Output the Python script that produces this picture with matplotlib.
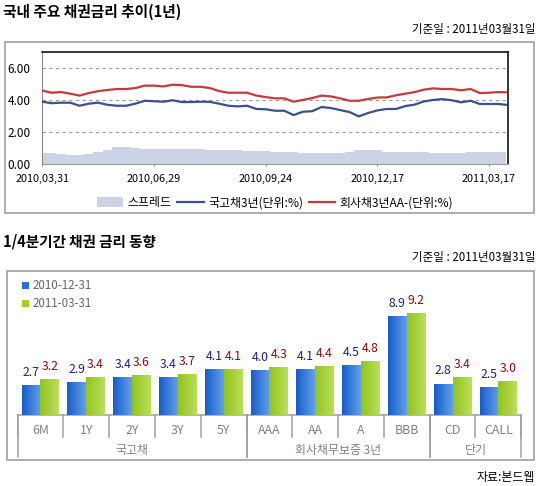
import numpy as np
import matplotlib
matplotlib.use('Agg')
import matplotlib.pyplot as plt
from matplotlib.patches import Rectangle, Patch
from matplotlib.lines import Line2D
from matplotlib.colors import LinearSegmentedColormap
import matplotlib.transforms as mtrans

plt.rcParams['font.family'] = ['Noto Sans CJK KR', 'DejaVu Sans']

# ---- top chart data (1 year, trading-day index) ----
date_labels = ['2010,03,31', '2010,06,29', '2010,09,24', '2010,12,17', '2011,03,17']
date_ticks = [0, 60, 120, 180, 240]
days = np.r_[np.arange(0, 250, 5), 249]

corp3y = [4.58, 4.45, 4.49, 4.39, 4.27, 4.43, 4.55, 4.62, 4.68, 4.68,
          4.74, 4.89, 4.89, 4.84, 4.95, 4.92, 4.82, 4.82, 4.74, 4.55,
          4.45, 4.45, 4.45, 4.27, 4.18, 4.10, 4.10, 3.89, 4.00, 4.12,
          4.27, 4.22, 4.10, 3.95, 3.95, 4.06, 4.15, 4.16, 4.29, 4.39,
          4.49, 4.64, 4.72, 4.68, 4.68, 4.60, 4.68, 4.43, 4.45, 4.49,
          4.48]
ktb3y = [3.89, 3.80, 3.83, 3.83, 3.64, 3.77, 3.83, 3.70, 3.64, 3.64,
         3.77, 3.95, 3.92, 3.89, 3.98, 3.87, 3.87, 3.89, 3.88, 3.77,
         3.64, 3.60, 3.64, 3.44, 3.42, 3.33, 3.33, 3.06, 3.27, 3.30,
         3.56, 3.50, 3.37, 3.25, 2.98, 3.19, 3.35, 3.44, 3.44, 3.62,
         3.71, 3.91, 4.00, 4.05, 3.98, 3.85, 3.95, 3.75, 3.75, 3.75,
         3.70]
spread = [0.68, 0.68, 0.62, 0.56, 0.58, 0.64, 0.77, 0.89, 1.08, 1.08,
          1.01, 0.95, 0.95, 0.95, 0.95, 0.95, 0.95, 0.95, 0.89, 0.89,
          0.89, 0.89, 0.83, 0.83, 0.83, 0.77, 0.77, 0.77, 0.72, 0.68,
          0.68, 0.68, 0.68, 0.77, 0.89, 0.89, 0.89, 0.77, 0.77, 0.77,
          0.77, 0.77, 0.72, 0.68, 0.68, 0.72, 0.77, 0.77, 0.77, 0.77,
          0.77]

# ---- bottom chart data ----
cats = ['6M', '1Y', '2Y', '3Y', '5Y', 'AAA', 'AA', 'A', 'BBB', 'CD', 'CALL']
rate_1012 = [2.7, 2.9, 3.4, 3.4, 4.1, 4.0, 4.1, 4.5, 8.9, 2.8, 2.5]
rate_1103 = [3.2, 3.4, 3.6, 3.7, 4.1, 4.3, 4.4, 4.8, 9.2, 3.4, 3.0]
groups = ['국고채', '회사채무보증 3년', '단기']
group_sizes = [5, 4, 2]
ser_names = ['2010-12-31', '2011-03-31']

W, H = 549, 486
def fx(x):
    return x / W
def fy(y):
    return 1 - y / H

fig = plt.figure(figsize=(W / 100, H / 100), dpi=100)

# frames
for (x0, y0, x1, y1) in [(4.7, 41.7, 534, 212.7), (6.7, 271, 534, 460)]:
    fig.add_artist(Rectangle((fx(x0), fy(y1)), fx(x1) - fx(x0), fy(y0) - fy(y1),
                             transform=fig.transFigure, fill=False,
                             ec='#a0a0a0', lw=1.2, zorder=0))

fig.text(fx(3), fy(11.5), '국내 주요 채권금리 추이(1년)', fontsize=10.6,
         fontweight='bold', va='center', ha='left')
fig.text(fx(535), fy(29.3), '기준일 : 2011년03월31일', fontsize=8.3,
         va='center', ha='right')
fig.text(fx(3), fy(241), '1/4분기간 채권 금리 동향', fontsize=10.5,
         fontweight='bold', va='center', ha='left')
fig.text(fx(535), fy(257.5), '기준일 : 2011년03월31일', fontsize=8.3,
         va='center', ha='right')
fig.text(fx(535), fy(477), '자료:본드웹', fontsize=8.6, va='center', ha='right')

# ---- top chart ----
ax1 = fig.add_axes([fx(42.3), fy(164.3), fx(507.7) - fx(42.3), fy(51.7) - fy(164.3)])
spread_col = '#cdd3e6'
blue_col = '#3c4f8e'
red_col = '#c43a3d'
ax1.fill_between(days, 0, spread, step='mid', color=spread_col, lw=0, zorder=1)
ax1.plot(days, ktb3y, color=blue_col, lw=1.6, zorder=3)
ax1.plot(days, corp3y, color=red_col, lw=1.6, zorder=3)
ax1.set_xlim(0, 250)
ax1.set_ylim(0, 7)
ax1.set_yticks([0, 2, 4, 6])
ax1.set_yticklabels(['%.2f' % v for v in [0, 2, 4, 6]])
ax1.set_xticks(date_ticks)
ax1.set_xticklabels(date_labels)
ax1.tick_params(axis='y', length=0, pad=8.3, labelsize=8.5)
ax1.tick_params(axis='x', direction='inout', length=3.5, color='#888888',
                pad=5.0, labelsize=7.8)
ax1.grid(axis='y', color='#999999', ls=(0, (3, 3)), lw=0.8, zorder=0)
ax1.set_axisbelow(True)
ax1.spines['left'].set_color('#888888')
ax1.spines['bottom'].set_color('#999999')
for s in ['top', 'right']:
    ax1.spines[s].set_color('black')
    ax1.spines[s].set_linewidth(1.1)

handles = [Patch(facecolor=spread_col, edgecolor='none'),
           Line2D([], [], color=blue_col, lw=1.6),
           Line2D([], [], color=red_col, lw=1.6)]
fig.legend(handles, ['스프레드', '국고채3년(단위:%)', '회사채3년AA-(단위:%)'],
           loc='center', bbox_to_anchor=(fx(275), fy(202.7)), ncol=3,
           frameon=False, fontsize=8.6, handlelength=2.2, handleheight=0.9,
           handletextpad=0.35, columnspacing=0.5, borderpad=0)

# ---- bottom chart ----
ax2 = fig.add_axes([fx(17.5), fy(415), fx(521.3) - fx(17.5), fy(282.3) - fy(415)])
x = np.arange(len(cats))
bw = 0.41
bars1 = ax2.bar(x - bw / 2, rate_1012, bw, color='none', zorder=3)
bars2 = ax2.bar(x + bw / 2, rate_1103, bw, color='none', zorder=3)
grad = np.linspace(0, 1, 64).reshape(1, -1)
cmap_b = LinearSegmentedColormap.from_list('b', ['#165dcc', '#62a0e6'])
cmap_g = LinearSegmentedColormap.from_list('g', ['#93c41c', '#bade5c'])
for bars, cm in [(bars1, cmap_b), (bars2, cmap_g)]:
    for r in bars:
        x0, w, h = r.get_x(), r.get_width(), r.get_height()
        ax2.imshow(grad, extent=(x0, x0 + w, 0, h), aspect='auto', cmap=cm,
                   interpolation='bilinear', zorder=3)

for bars, vals, c in [(bars1, rate_1012, '#1c1c96'), (bars2, rate_1103, '#8b0a0a')]:
    for r, v in zip(bars, vals):
        ax2.annotate('%.1f' % v, (r.get_x() + r.get_width() / 2, v),
                     xytext=(0, 9.4), textcoords='offset points',
                     ha='center', va='center', fontsize=8.8, color=c)

ax2.set_xlim(-0.5, len(cats) - 0.5)
ax2.set_ylim(0, 12)
ax2.set_yticks(np.arange(2, 13, 2))
ax2.yaxis.set_visible(False)
ax2.set_xticks([])
ax2.grid(axis='y', color='#c0c0c0', ls=(0, (3, 3)), lw=0.9, zorder=0)
ax2.set_axisbelow(True)
for s in ['top', 'right', 'left']:
    ax2.spines[s].set_visible(False)
ax2.spines['bottom'].set_color('#a0a0a0')
ax2.spines['bottom'].set_linewidth(1.1)

# two-level category axis
ax_h = fy(282.3) - fy(415)
def ay(px_below):
    return -px_below / (ax_h * H)
tr = mtrans.blended_transform_factory(ax2.transData, ax2.transAxes)
for b in np.arange(len(cats) + 1) - 0.5:
    ax2.plot([b, b], [0, ay(21.7)], transform=tr, color='#a0a0a0', lw=1.1,
             clip_on=False)
for i, c in enumerate(cats):
    ax2.text(i, ay(15), c, transform=tr, ha='center', va='center',
             fontsize=8.9, color='#808080')
start = 0
for g, n in zip(groups, group_sizes):
    for b in [start - 0.5, start + n - 0.5]:
        ax2.plot([b, b], [0, ay(42.3)], transform=tr, color='#a0a0a0', lw=1.1,
                 clip_on=False)
    ax2.text(start + (n - 1) / 2, ay(35), g, transform=tr, ha='center',
             va='center', fontsize=8.6, color='#808080')
    start += n

# legend (white backing hides the grid lines)
fig.add_artist(Rectangle((fx(17), fy(312)), fx(95) - fx(17), fy(276) - fy(312),
                         transform=fig.transFigure, fc='white', ec='none', zorder=2))
for yy, name, col in [(285.7, ser_names[0], '#2a6fd6'), (303.7, ser_names[1], '#a2cf2e')]:
    fig.add_artist(Rectangle((fx(22), fy(yy + 3.5)), fx(7) - fx(0), fy(0) - fy(7),
                             transform=fig.transFigure, fc=col, ec='none', zorder=3))
    fig.text(fx(32.7), fy(yy), name, fontsize=8.3, color='#666666',
             va='center', ha='left', zorder=3)

fig.savefig('out.png', dpi=100)
